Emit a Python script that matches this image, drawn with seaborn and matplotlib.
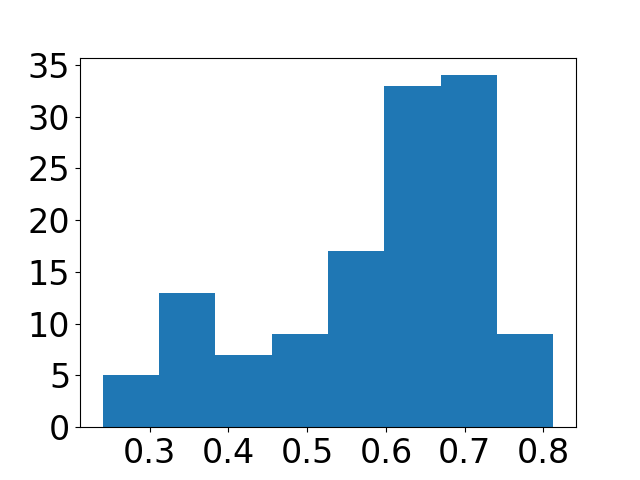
import matplotlib
matplotlib.use("Agg")
import matplotlib.pyplot as plt
import seaborn as sns
import numpy as np

# histogram
bin_edges = [0.240, 0.3116, 0.3832, 0.4548, 0.5264, 0.5980, 0.6696, 0.7412, 0.8128]
counts = [5, 13, 7, 9, 17, 33, 34, 9]
x_ticks = [0.3, 0.4, 0.5, 0.6, 0.7, 0.8]

centers = [(a + b) / 2 for a, b in zip(bin_edges[:-1], bin_edges[1:])]

# plain matplotlib look, like the reference
plt.rcdefaults()
plt.rcParams['font.family'] = ['DejaVu Sans']

fig, ax = plt.subplots(figsize=(6.4, 4.8), dpi=100)
sns.histplot(x=centers, weights=counts, bins=bin_edges, color="#1f77b4",
             alpha=1, linewidth=0, ax=ax)
ax.set_xlabel("")
ax.set_ylabel("")
ax.set_xticks(x_ticks)
ax.set_yticks(np.arange(0, 36, 5))
ax.tick_params(labelsize=24)
fig.subplots_adjust(left=0.125, right=0.9, bottom=0.11, top=0.88)
fig.savefig("out.png")
